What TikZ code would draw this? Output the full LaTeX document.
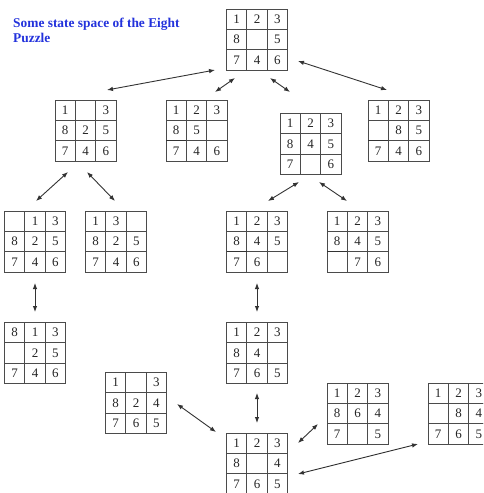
\documentclass[tikz,border=0pt]{standalone}
\usepackage{fontspec}
\setmainfont{Liberation Serif}
\usetikzlibrary{matrix,arrows.meta}
\definecolor{ttl}{RGB}{35,50,220}
\definecolor{ln}{RGB}{75,75,75}
\tikzset{
  pz/.style={matrix of nodes, nodes in empty cells, column sep=-0.8pt, row sep=-0.8pt,
    inner sep=0pt, outer sep=0pt,
    nodes={draw=ln, line width=0.8pt, minimum width=20.33pt, minimum height=20.33pt,
      inner sep=0pt, anchor=center, text=black!85, font=\fontsize{13}{13}\selectfont}},
  link/.style={{Latex[length=6pt,width=4.5pt]}-{Latex[length=6pt,width=4.5pt]}, line width=0.9pt, draw=black!80},
  heavy/.style={line width=1.6pt, draw=black!80},
  ttlfont/.style={font=\fontsize{13.4}{15}\selectfont\bfseries, text=ttl, inner sep=0pt, anchor=base west}
}
\begin{document}
\begin{tikzpicture}[x=1pt,y=-1pt]
\clip (0,0) rectangle (483,493);
\fill[white] (0,0) rectangle (483,493);

\node[ttlfont] (t1) at (13,27) {Some state space of the Eight};
\node[ttlfont] (t2) at (13,42) {Puzzle};

\matrix[pz] (top) at (257,39.5) {1 & 2 & 3 \\ 8 & & 5 \\ 7 & 4 & 6 \\};
\matrix[pz] (b1) at (85.5,130.5) {1 & & 3 \\ 8 & 2 & 5 \\ 7 & 4 & 6 \\};
\matrix[pz] (b2) at (196.5,130.5) {1 & 2 & 3 \\ 8 & 5 & \\ 7 & 4 & 6 \\};
\matrix[pz] (b3) at (310.5,144) {1 & 2 & 3 \\ 8 & 4 & 5 \\ 7 & & 6 \\};
\matrix[pz] (b4) at (398.5,130.5) {1 & 2 & 3 \\ & 8 & 5 \\ 7 & 4 & 6 \\};
\matrix[pz] (cA) at (35,241.5) { & 1 & 3 \\ 8 & 2 & 5 \\ 7 & 4 & 6 \\};
\matrix[pz] (cB) at (116,241.5) {1 & 3 & \\ 8 & 2 & 5 \\ 7 & 4 & 6 \\};
\matrix[pz] (cC) at (257,241.5) {1 & 2 & 3 \\ 8 & 4 & 5 \\ 7 & 6 & \\};
\matrix[pz] (cD) at (357.5,241.5) {1 & 2 & 3 \\ 8 & 4 & 5 \\ & 7 & 6 \\};
\matrix[pz] (dE) at (35,353) {8 & 1 & 3 \\ & 2 & 5 \\ 7 & 4 & 6 \\};
\matrix[pz] (dF) at (257,353) {1 & 2 & 3 \\ 8 & 4 & \\ 7 & 6 & 5 \\};
\matrix[pz] (eG) at (136,403) {1 & & 3 \\ 8 & 2 & 4 \\ 7 & 6 & 5 \\};
\matrix[pz] (eH) at (257,463.5) {1 & 2 & 3 \\ 8 & & 4 \\ 7 & 6 & 5 \\};
\matrix[pz] (eI) at (357.5,413.5) {1 & 2 & 3 \\ 8 & 6 & 4 \\ 7 & & 5 \\};
\matrix[pz] (eJ) at (458.5,413.5) {1 & 2 & 3 \\ & 8 & 4 \\ 7 & 6 & 5 \\};

% darker cell edges
\draw[heavy] (b2-2-1.south west) -- (b2-2-1.south east);
\draw[heavy] (b4-2-1.south west) -- (b4-2-1.south east);
\draw[heavy] (cC-2-1.south west) -- (cC-2-1.south east);
\draw[heavy] (cD-2-1.south west) -- (cD-2-1.south east);

% arrow end points
\coordinate (p1a) at (215,70);  \coordinate (p1b) at (107,90);
\coordinate (p2a) at (235,78);  \coordinate (p2b) at (215,92);
\coordinate (p3a) at (270,78);  \coordinate (p3b) at (290,92);
\coordinate (p4a) at (298,61);  \coordinate (p4b) at (387,90);
\coordinate (p5a) at (68,172);  \coordinate (p5b) at (36,201);
\coordinate (p6a) at (87,172);  \coordinate (p6b) at (115,201);
\coordinate (p7a) at (299,182); \coordinate (p7b) at (268,201);
\coordinate (p8a) at (319,182); \coordinate (p8b) at (347,201);
\coordinate (p9a) at (35,283);  \coordinate (p9b) at (35,312);
\coordinate (q1a) at (257,283); \coordinate (q1b) at (257,312);
\coordinate (q2a) at (177,404); \coordinate (q2b) at (216,432);
\coordinate (q3a) at (257,393); \coordinate (q3b) at (257,423);
\coordinate (q4a) at (298,443); \coordinate (q4b) at (318,424);
\coordinate (q5a) at (298,474); \coordinate (q5b) at (418,444);

\draw[link] (p1a) -- (p1b);
\draw[link] (p2a) -- (p2b);
\draw[link] (p3a) -- (p3b);
\draw[link] (p4a) -- (p4b);
\draw[link] (p5a) -- (p5b);
\draw[link] (p6a) -- (p6b);
\draw[link] (p7a) -- (p7b);
\draw[link] (p8a) -- (p8b);
\draw[link] (p9a) -- (p9b);
\draw[link] (q1a) -- (q1b);
\draw[link] (q2a) -- (q2b);
\draw[link] (q3a) -- (q3b);
\draw[link] (q4a) -- (q4b);
\draw[link] (q5a) -- (q5b);
\end{tikzpicture}
\end{document}
